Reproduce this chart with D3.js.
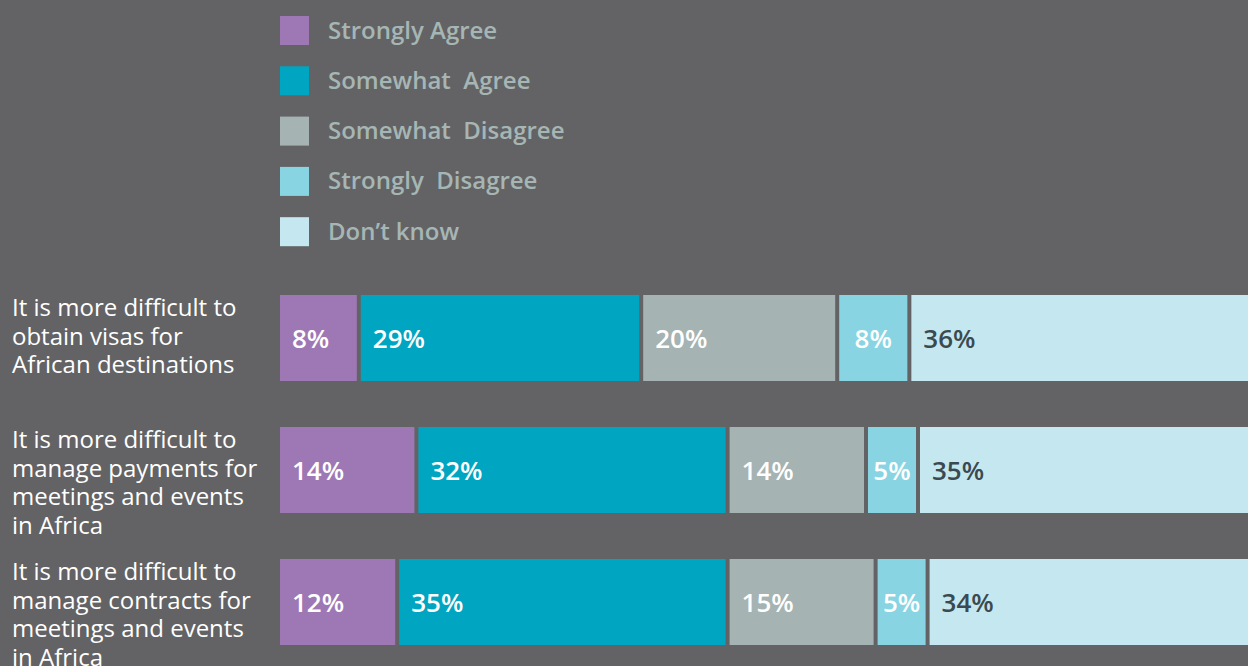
<!DOCTYPE html>
<html>
<head>
<meta charset="utf-8">
<script src="https://cdn.jsdelivr.net/npm/d3@7"></script>
<style>
	body { margin: 0; background: #636365; overflow: hidden; }
	text { font-family: "Open Sans", sans-serif; }
</style>
</head>
<body>
<div class="canvas"></div>
<script>
// categories + series
const categories = ['Strongly Agree', 'Somewhat  Agree', 'Somewhat  Disagree', 'Strongly  Disagree', 'Don\u2019t know'];
const colours = ['#9e78b4', '#00a5c1', '#a5b3b3', '#88d4e2', '#c5e8f0'];

const statements = [
	['It is more difficult to', 'obtain visas for', 'African destinations'],
	['It is more difficult to', 'manage payments for', 'meetings and events', 'in Africa'],
	['It is more difficult to', 'manage contracts for', 'meetings and events', 'in Africa']
];

// segment lengths as measured off the bars
const visas = [8, 29, 20, 7.1, 36];
const payments = [14, 32, 14, 5, 35];
const contracts = [12, 34, 15, 5, 34];

// printed labels
const visasLabels = ['8%', '29%', '20%', '8%', '36%'];
const paymentsLabels = ['14%', '32%', '14%', '5%', '35%'];
const contractsLabels = ['12%', '35%', '15%', '5%', '34%'];

const dims = { width: 1248, height: 666 };
const gap = 4;

const svg = d3.select('.canvas').append('svg')
	.attr('width', dims.width)
	.attr('height', dims.height);

const rows = [
	{ text: statements[0], values: visas, labels: visasLabels },
	{ text: statements[1], values: payments, labels: paymentsLabels },
	{ text: statements[2], values: contracts, labels: contractsLabels }
];

const x = d3.scaleLinear().domain([0, 100]).range([0, 960]);

// 86px bars on a 132px step
const y = d3.scaleBand()
	.domain(d3.range(rows.length))
	.range([295, 295 + 132 * rows.length - 46])
	.paddingInner(46 / 132)
	.paddingOuter(0);

const colour = d3.scaleOrdinal().domain(categories).range(colours);

// legend
const legend = svg.append('g')
	.attr('transform', 'translate(280, 16)');

const items = legend.selectAll('g')
	.data(categories)
	.enter().append('g')
	.attr('transform', (d, i) => `translate(0, ${i * 50.3})`);

items.append('rect')
	.attr('width', 29)
	.attr('height', 29)
	.attr('fill', d => colour(d));

items.append('text')
	.attr('x', 48)
	.attr('y', 22.5)
	.attr('fill', '#a6b6b4')
	.attr('font-size', 24)
	.attr('font-weight', 600)
	.style('white-space', 'pre')
	.text(d => d);

// bars
const graph = svg.append('g').attr('transform', 'translate(280, 0)');

rows.forEach((row, r) => {
	let start = 0;
	const segs = row.values.map((v, i) => {
		const s = { x0: x(start) + i * gap, w: x(v), v, label: row.labels[i], cat: categories[i] };
		start += v;
		return s;
	});

	const g = graph.append('g').attr('transform', `translate(0, ${y(r)})`);

	g.selectAll('rect')
		.data(segs)
		.enter().append('rect')
		.attr('x', d => d.x0)
		.attr('width', d => d.w)
		.attr('height', y.bandwidth())
		.attr('fill', d => colour(d.cat));

	g.selectAll('text')
		.data(segs)
		.enter().append('text')
		.attr('x', (d, i) => d.x0 + (i === 3 ? d.w / 2 : 12))
		.attr('text-anchor', (d, i) => i === 3 ? 'middle' : 'start')
		.attr('y', y.bandwidth() / 2 + 10)
		.attr('font-size', 26)
		.attr('font-weight', 600)
		.attr('fill', (d, i) => i === 4 ? '#3b4a50' : '#ffffff')
		.text(d => d.label);

	// statement text
	svg.append('text')
		.attr('x', 12)
		.attr('y', y(r) + 21)
		.attr('fill', '#ffffff')
		.attr('font-size', 24)
		.selectAll('tspan')
		.data(row.text)
		.enter().append('tspan')
		.attr('x', 12)
		.attr('dy', (d, i) => i === 0 ? 0 : 28.5)
		.text(d => d);
});
</script>
</body>
</html>
